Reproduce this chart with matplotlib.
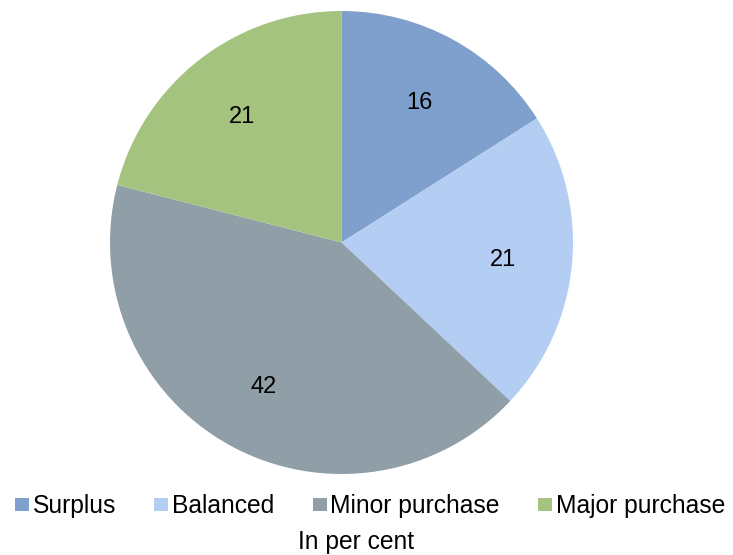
import matplotlib
matplotlib.use("Agg")
import matplotlib.pyplot as plt
from matplotlib.patches import Rectangle

categories = ["Surplus", "Balanced", "Minor purchase", "Major purchase"]
values = [16, 21, 42, 21]
colors = ["#7F9FCC", "#B4CDF2", "#909EA8", "#A3C37F"]
caption = "In per cent"

plt.rcParams["font.family"] = ["Liberation Sans", "DejaVu Sans"]
FS = 17
LFS = 17.7
W, H = 733, 555

fig = plt.figure(figsize=(W / 100, H / 100), dpi=100)
ax = fig.add_axes([110 / W, 81 / H, 463 / W, 463 / H])

total = sum(values)
_, _, autotexts = ax.pie(values, colors=colors, startangle=90, counterclock=False,
                         autopct=lambda p: f"{p * total / 100:.0f}", pctdistance=0.7,
                         wedgeprops=dict(linewidth=0),
                         textprops=dict(fontsize=FS, color="black"))
for t in autotexts:
    t.set_va("center_baseline")
ax.set_xlim(-1, 1)
ax.set_ylim(-1, 1)
ax.set_aspect("equal")
ax.axis("off")

# Legend laid out manually in pixel units (marker, gap, label, spacing)
renderer = fig.canvas.get_renderer()
marker_w, marker_h, text_gap, col_gap = 14, 13, 4, 38
baseline_px, marker_center_px = 513, 504.5
texts = []
widths = []
for lab in categories:
    t = fig.text(0, 0, lab, fontsize=LFS, ha="left", va="baseline")
    widths.append(t.get_window_extent(renderer).width)
    texts.append(t)
total_w = sum(marker_w + text_gap + w for w in widths) + col_gap * (len(categories) - 1)
x = 370 - total_w / 2
for t, w, c in zip(texts, widths, colors):
    fig.patches.append(Rectangle((x / W, (H - marker_center_px - marker_h / 2) / H),
                                 marker_w / W, marker_h / H, transform=fig.transFigure,
                                 facecolor=c, edgecolor="none"))
    t.set_position(((x + marker_w + text_gap) / W, (H - baseline_px) / H))
    x += marker_w + text_gap + w + col_gap

fig.text(356 / W, (H - 549) / H, caption, ha="center", va="baseline", fontsize=LFS)

fig.savefig("out.png", dpi=100)
